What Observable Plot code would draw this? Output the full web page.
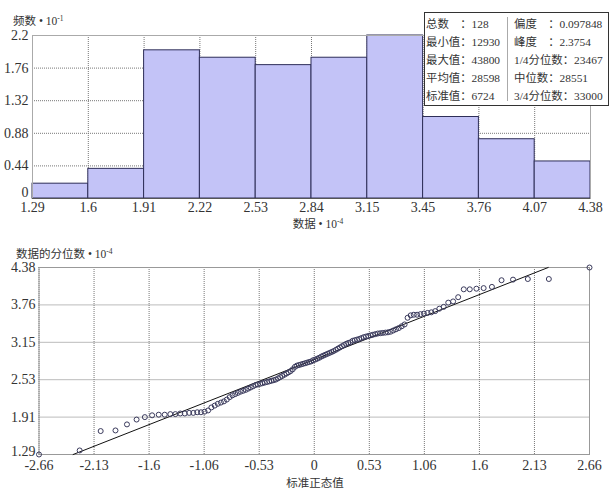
<!DOCTYPE html>
<html><head><meta charset="utf-8">
<script src="https://cdn.jsdelivr.net/npm/d3@7"></script>
<script src="https://cdn.jsdelivr.net/npm/@observablehq/plot@0.6"></script>
<style>
body{margin:0;background:#fff;}
#wrap{position:relative;width:609px;height:491px;overflow:hidden;font-family:"Liberation Serif","Noto Sans CJK SC",serif;color:#333;}
.abs{position:absolute;white-space:nowrap;}
.cjk{font-family:"Noto Sans CJK SC",sans-serif;}
.ttl{font-size:11.5px;line-height:14px;}
.ttl sup{font-size:7.5px;vertical-align:top;position:relative;top:-1px;}
#stats{position:absolute;left:424px;top:12px;width:183px;height:92px;border:1px solid #333;background:#fff;font-size:11.4px;}
#stats .col{position:absolute;top:3px;}
#stats .row{height:17.9px;line-height:17.9px;white-space:nowrap;}
#stats .div{position:absolute;left:82px;top:4px;width:1px;height:84px;background:#aaa;}
svg{position:absolute;left:0;}
</style></head><body><div id="wrap"></div>
<script>
// ---------- histogram data ----------
const binEdges = [1.293, 1.6017, 1.9104, 2.2191, 2.5278, 2.8365, 3.1452, 3.4539, 3.7626, 4.0713, 4.38];
const binLabels = ["1.29","1.6","1.91","2.22","2.53","2.84","3.15","3.45","3.76","4.07","4.38"];
const binFreq = [0.2, 0.4, 2.0, 1.9, 1.8, 1.9, 2.2, 1.1, 0.8, 0.5];
const histYTicks = [0, 0.44, 0.88, 1.32, 1.76, 2.2];
const histYLabels = ["0","0.44","0.88","1.32","1.76","2.2"];

// ---------- stats box ----------
const statsLeft = ["总数　：128","最小值：12930","最大值：43800","平均值：28598","标准值：6724"];
const statsRight = ["偏度　：0.097848","峰度　：2.3754","1/4分位数：23467","中位数：28551","3/4分位数：33000"];

// ---------- QQ plot data ----------
const qqZ = [-2.660,-2.267,-2.064,-1.921,-1.810,-1.717,-1.637,-1.567,-1.503,-1.445,
-1.391,-1.342,-1.295,-1.251,-1.209,-1.169,-1.131,-1.095,-1.060,-1.026,
-0.994,-0.962,-0.932,-0.902,-0.873,-0.845,-0.817,-0.790,-0.764,-0.738,
-0.712,-0.687,-0.662,-0.638,-0.614,-0.590,-0.567,-0.545,-0.522,-0.500,
-0.478,-0.456,-0.434,-0.413,-0.392,-0.371,-0.350,-0.329,-0.309,-0.288,
-0.268,-0.248,-0.228,-0.208,-0.187,-0.168,-0.148,-0.128,-0.108,-0.088,
-0.069,-0.049,-0.029,-0.010,0.010,0.029,0.049,0.069,0.088,0.108,
0.128,0.148,0.168,0.187,0.208,0.228,0.248,0.268,0.288,0.309,
0.329,0.350,0.371,0.392,0.413,0.434,0.456,0.478,0.500,0.522,
0.545,0.567,0.590,0.614,0.638,0.662,0.687,0.712,0.738,0.764,
0.790,0.817,0.845,0.873,0.902,0.932,0.962,0.994,1.026,1.060,
1.095,1.131,1.169,1.209,1.251,1.295,1.342,1.391,1.445,1.503,
1.567,1.637,1.717,1.810,1.921,2.064,2.267,2.660];
const qqY = [1.293,1.36,1.68,1.69,1.79,1.87,1.91,1.94,1.95,1.95,
1.96,1.96,1.97,1.97,1.98,1.98,1.99,1.99,2.00,2.02,
2.07,2.10,2.13,2.15,2.17,2.20,2.24,2.27,2.29,2.31,
2.33,2.345,2.36,2.38,2.40,2.42,2.44,2.45,2.46,2.47,
2.48,2.49,2.50,2.51,2.52,2.53,2.55,2.57,2.59,2.61,
2.63,2.65,2.67,2.70,2.74,2.76,2.77,2.78,2.79,2.80,
2.81,2.82,2.83,2.85,2.86,2.875,2.89,2.91,2.925,2.94,
2.955,2.97,2.985,3.00,3.02,3.04,3.06,3.08,3.10,3.12,
3.135,3.145,3.17,3.18,3.19,3.20,3.215,3.23,3.24,3.25,
3.26,3.27,3.28,3.29,3.295,3.30,3.305,3.31,3.32,3.34,
3.36,3.38,3.41,3.44,3.55,3.59,3.60,3.60,3.61,3.62,
3.63,3.64,3.66,3.70,3.73,3.80,3.82,3.89,4.02,4.02,
4.03,4.04,4.06,4.17,4.18,4.19,4.19,4.38];
const qqXTicks = [-2.66,-2.128,-1.596,-1.064,-0.532,0,0.532,1.064,1.596,2.128,2.66];
const qqXLabels = ["-2.66","-2.13","-1.6","-1.06","-0.53","0","0.53","1.06","1.6","2.13","2.66"];
const qqYTicks = [1.293,1.9104,2.5278,3.1452,3.7626,4.38];
const qqYLabels = ["1.29","1.91","2.53","3.15","3.76","4.38"];
const fitX = [-2.330, 2.261];
const fitY = [1.293, 4.38];

const wrap = document.getElementById("wrap");
const font = {fontFamily:'"Liberation Serif", serif', fontSize:"14px", color:"#333", background:"transparent", overflow:"visible"};
const gridStyle = {stroke:"#777", strokeOpacity:1, strokeDasharray:"1,1"};

const histTable = binFreq.map((v,i)=>({x1:binEdges[i], x2:binEdges[i+1], y:v}));
const bxMap = new Map(binEdges.map((d,i)=>[d, binLabels[i]]));
const byMap = new Map(histYTicks.map((d,i)=>[d, histYLabels[i]]));

const chart1 = Plot.plot({
  width:609, height:232,
  marginTop:35, marginBottom:34, marginLeft:32, marginRight:19,
  style:font,
  x:{domain:[binEdges[0], binEdges[binEdges.length-1]], label:null},
  y:{domain:[0, 2.2], label:null},
  marks:[
    Plot.gridX(binEdges, gridStyle),
    Plot.gridY(histYTicks, gridStyle),
    Plot.rectY(histTable, {x1:"x1", x2:"x2", y:"y", fill:"#c3c3f7", stroke:"#2e2e58", strokeWidth:1}),
    Plot.frame({stroke:"#aaa"}),
    Plot.ruleY([0], {stroke:"#555"}),
    Plot.axisX(binEdges, {tickSize:0, tickPadding:4, tickFormat:d=>bxMap.get(d), fontSize:14, label:null}),
    Plot.axisY(histYTicks.slice(1), {tickSize:0, tickPadding:4, tickFormat:d=>byMap.get(d), fontSize:14, label:null}),
    Plot.axisY(histYTicks.slice(0,1), {tickSize:0, tickPadding:4, tickFormat:d=>byMap.get(d), fontSize:14, dy:-6, label:null})
  ]
});
chart1.style.top = "0px";
wrap.appendChild(chart1);

const qqTable = qqZ.map((z,i)=>({z, v:qqY[i]}));
const fitTable = fitX.map((x,i)=>({x, y:fitY[i]}));
const qxMap = new Map(qqXTicks.map((d,i)=>[d, qqXLabels[i]]));
const qyMap = new Map(qqYTicks.map((d,i)=>[d, qqYLabels[i]]));

const chart2 = Plot.plot({
  width:609, height:259,
  marginTop:35, marginBottom:37, marginLeft:38.5, marginRight:20,
  style:font,
  x:{domain:[-2.66, 2.66], label:null},
  y:{domain:[1.293, 4.38], label:null},
  marks:[
    Plot.gridX(qqXTicks, gridStyle),
    Plot.gridY(qqYTicks, gridStyle),
    Plot.frame({stroke:"#999"}),
    Plot.line(fitTable, {x:"x", y:"y", stroke:"#111", strokeWidth:1}),
    Plot.dot(qqTable, {x:"z", y:"v", r:2.5, stroke:"#3a3a5c", strokeWidth:1, fill:"none"}),
    Plot.axisX(qqXTicks, {tickSize:0, tickPadding:6, tickFormat:d=>qxMap.get(d), fontSize:14, label:null}),
    Plot.axisY(qqYTicks.slice(1), {tickSize:0, tickPadding:3.5, tickFormat:d=>qyMap.get(d), fontSize:14, label:null}),
    Plot.axisY(qqYTicks.slice(0,1), {tickSize:0, tickPadding:3.5, tickFormat:d=>qyMap.get(d), fontSize:14, dy:-3, label:null})
  ]
});
chart2.style.top = "232px";
wrap.appendChild(chart2);

// titles
function addTitle(html, left, top, center){
  const d = document.createElement("div");
  d.className = "abs ttl";
  d.innerHTML = html;
  d.style.top = top + "px";
  d.style.left = left + "px";
  if (center) d.style.transform = "translateX(-50%)";
  wrap.appendChild(d);
}
addTitle('<span class="cjk">频数</span> • 10<sup>-1</sup>', 13, 13);
addTitle('<span class="cjk">数据</span> • 10<sup>-4</sup>', 318, 216, true);
addTitle('<span class="cjk">数据的分位数</span> • 10<sup>-4</sup>', 16, 246);
addTitle('<span class="cjk">标准正态值</span>', 315, 475, true);

// stats box
const box = document.createElement("div");
box.id = "stats";
const colL = document.createElement("div"); colL.className = "col"; colL.style.left = "1px";
statsLeft.forEach(t=>{const r=document.createElement("div"); r.className="row"; r.textContent=t; colL.appendChild(r);});
const colR = document.createElement("div"); colR.className = "col"; colR.style.left = "89px";
statsRight.forEach(t=>{const r=document.createElement("div"); r.className="row"; r.textContent=t; colR.appendChild(r);});
const dv = document.createElement("div"); dv.className = "div";
box.appendChild(colL); box.appendChild(dv); box.appendChild(colR);
wrap.appendChild(box);
</script></body></html>
